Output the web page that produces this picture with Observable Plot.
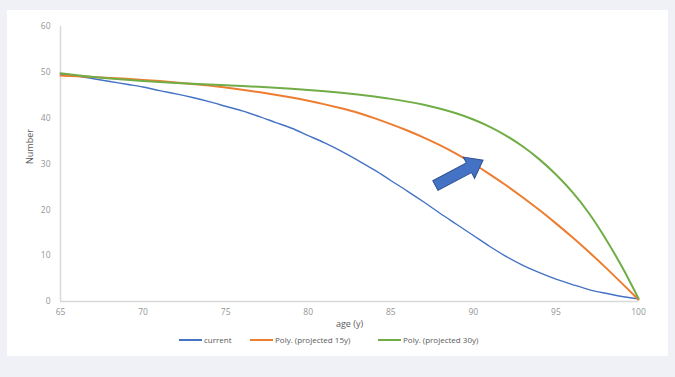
<!DOCTYPE html>
<html>
<head>
<meta charset="utf-8">
<script src="https://cdn.jsdelivr.net/npm/d3@7"></script>
<script src="https://cdn.jsdelivr.net/npm/@observablehq/plot@0.6"></script>
<style>
  html, body { margin: 0; padding: 0; background: #eff1f6; width: 675px; height: 377px; overflow: hidden; }
  #panel { position: absolute; left: 7px; top: 10px; width: 661px; height: 346px; background: #fff; font-family: "Open Sans", "DejaVu Sans", sans-serif; }
  #legend { position: absolute; left: 0; top: 325px; width: 661px; height: 10px; font-size: 8px; color: #595959; }
  .item { position: absolute; top: 0; height: 10px; line-height: 10px; white-space: nowrap; }
  .sw { display: inline-block; width: 23px; height: 2px; vertical-align: middle; margin-right: 2px; position: relative; top: -1px; }
</style>
</head>
<body>
<div id="panel"><div id="chart"></div><div id="legend"></div></div>
<script>
const ages = d3.range(65, 101);
const current = [49.6,49.2,48.6,48.0,47.4,46.8,46.0,45.3,44.5,43.6,42.6,41.6,40.4,39.1,37.8,36.2,34.6,32.8,30.8,28.7,26.4,24.1,21.7,19.2,16.8,14.4,12.0,9.8,7.9,6.3,4.9,3.7,2.6,1.8,1.1,0.6];
const projected15 = [49.3,49.15,48.98,48.79,48.58,48.35,48.09,47.8,47.47,47.1,46.68,46.21,45.69,45.12,44.49,43.79,43.01,42.15,41.2,40.0,38.7,37.3,35.75,34.05,32.15,30.05,27.75,25.3,22.7,19.95,17.05,14.0,10.8,7.45,3.95,0.4];
const projected30 = [49.8,49.38,49.0,48.66,48.36,48.1,47.88,47.69,47.52,47.36,47.2,47.03,46.85,46.65,46.42,46.16,45.86,45.52,45.14,44.71,44.21,43.61,42.91,42.06,41.01,39.71,38.11,36.16,33.81,31.01,27.71,23.86,19.26,13.76,7.56,0.66];
const seriesNames = ["current", "Poly. (projected 15y)", "Poly. (projected 30y)"];
const seriesColors = ["#4472c4", "#ed7d31", "#70ad47"];
const seriesWidths = [1.4, 2, 2];
const seriesCurves = ["catmull-rom", "natural", "natural"];
const xTicks = [65, 70, 75, 80, 85, 90, 95, 100];
const yTicks = [0, 10, 20, 30, 40, 50, 60];
// annotation arrow: tail position in data units
const arrowTail = [{age: 87.7, value: 25.3}];

const allSeries = [current, projected15, projected30];
const rows = allSeries.flatMap((vals, i) => ages.map((a, j) => ({age: a, value: vals[j], series: seriesNames[i]})));

const blockArrow = {
  draw(ctx, l) {
    const w = 11, hw = 24, h = 16;
    ctx.moveTo(-w / 2, 0);
    ctx.lineTo(-w / 2, -(l - h));
    ctx.lineTo(-hw / 2, -(l - h));
    ctx.lineTo(0, -l);
    ctx.lineTo(hw / 2, -(l - h));
    ctx.lineTo(w / 2, -(l - h));
    ctx.lineTo(w / 2, 0);
    ctx.closePath();
  }
};

const chart = Plot.plot({
  width: 661,
  height: 325,
  marginLeft: 53,
  marginRight: 30,
  marginTop: 16,
  marginBottom: 34,
  style: {fontFamily: "'Open Sans', 'DejaVu Sans', sans-serif", fontSize: "8.5px", color: "#959595", background: "#fff"},
  x: {domain: [65, 100], ticks: xTicks, tickSize: 0, tickPadding: 7, label: null},
  y: {domain: [0, 60], ticks: yTicks, tickSize: 0, tickPadding: 10, label: null},
  marks: [
    Plot.ruleX([65], {stroke: "#d9d9d9", strokeWidth: 1.5}),
    Plot.ruleY([0], {stroke: "#d9d9d9", strokeWidth: 1.5}),
    ...seriesNames.map((name, i) =>
      Plot.line(rows.filter(d => d.series === name), {x: "age", y: "value", stroke: seriesColors[i], strokeWidth: seriesWidths[i], curve: seriesCurves[i]})
    ),
    Plot.vector(arrowTail, {x: "age", y: "value", length: 54, rotate: 62, anchor: "start", shape: blockArrow, fill: "#4472c4", stroke: "#2f528f", strokeWidth: 1, strokeLinejoin: "miter"}),
    Plot.text(["age (y)"], {frameAnchor: "bottom", dy: 25, fill: "#595959", fontSize: 9}),
    Plot.text(["Number"], {frameAnchor: "left", rotate: -90, dx: -30, fill: "#595959", fontSize: 9})
  ]
});
document.getElementById("chart").appendChild(chart);

const legendLeft = [172, 243, 371];
const legend = document.getElementById("legend");
seriesNames.forEach((name, i) => {
  const item = document.createElement("div");
  item.className = "item";
  item.style.left = legendLeft[i] + "px";
  const sw = document.createElement("span");
  sw.className = "sw";
  sw.style.background = seriesColors[i];
  item.appendChild(sw);
  item.appendChild(document.createTextNode(name));
  legend.appendChild(item);
});
</script>
</body>
</html>
